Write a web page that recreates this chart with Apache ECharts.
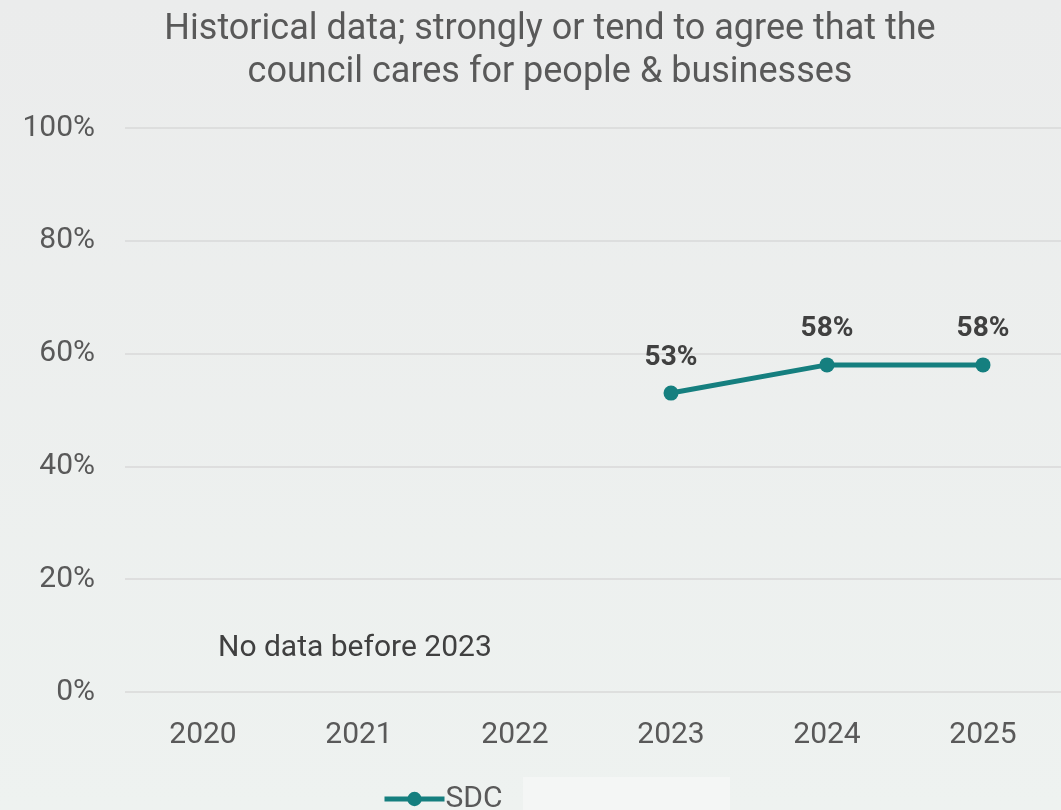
<!DOCTYPE html>
<html>
<head>
<meta charset="utf-8">
<script src="https://cdn.jsdelivr.net/npm/echarts@6/dist/echarts.min.js"></script>
<style>html,body{margin:0;padding:0;}#c{width:1061px;height:810px;}</style>
</head>
<body>
<div id="c"></div>
<script>
const titleText = 'Historical data; strongly or tend to agree that the\ncouncil cares for people & businesses';
const years = ['2020', '2021', '2022', '2023', '2024', '2025'];
const sdcValues = [null, null, null, 53, 58, 58];
const seriesName = 'SDC';
const noteText = 'No data before 2023';

const chart = echarts.init(document.getElementById('c'));
chart.setOption({
  backgroundColor: {
    type: 'linear', x: 0, y: 0, x2: 0, y2: 1,
    colorStops: [{offset: 0, color: '#ebecec'}, {offset: 1, color: '#eef2f0'}]
  },
  textStyle: {fontFamily: 'Roboto'},
  title: {
    text: titleText,
    left: 545, textAlign: 'center', top: 3,
    textStyle: {fontFamily: 'Roboto', fontSize: 36, fontWeight: 'normal', color: '#595959', lineHeight: 43}
  },
  grid: {left: 125, right: 0, top: 128, bottom: 118, containLabel: false},
  xAxis: {
    type: 'category', data: years, boundaryGap: true,
    axisLine: {show: false}, axisTick: {show: false},
    axisLabel: {fontSize: 30, color: '#595959', margin: 28, fontFamily: 'Roboto'}
  },
  yAxis: {
    type: 'value', min: 0, max: 100, interval: 20,
    axisLabel: {formatter: '{value}%', fontSize: 30, color: '#595959', margin: 30, fontFamily: 'Roboto'},
    splitLine: {lineStyle: {color: '#d9d9d9', width: 1.5}},
    axisLine: {show: false}, axisTick: {show: false}
  },
  legend: {
    data: [seriesName], left: 377, top: 779,
    itemWidth: 60, itemHeight: 18, itemGap: 4,
    lineStyle: {width: 5},
    textStyle: {fontSize: 30, color: '#595959', fontFamily: 'Roboto', padding: [0, 0, 0, -4]}
  },
  series: [{
    name: seriesName, type: 'line', data: sdcValues,
    symbol: 'circle', symbolSize: 15,
    lineStyle: {color: '#157f7f', width: 5},
    itemStyle: {color: '#157f7f'},
    label: {
      show: true, position: 'top', distance: 14,
      formatter: p => p.value + '%',
      fontSize: 28, fontWeight: 'bold', color: '#404040', fontFamily: 'Roboto'
    }
  }],
  graphic: [
    {type: 'rect', left: 523, top: 777, shape: {width: 207, height: 33}, style: {fill: '#f4f6f5'}, z: -1},
    {type: 'text', left: 218, top: 633, style: {text: noteText, fontSize: 30, fill: '#404040', fontFamily: 'Roboto'}}
  ]
});
</script>
</body>
</html>
